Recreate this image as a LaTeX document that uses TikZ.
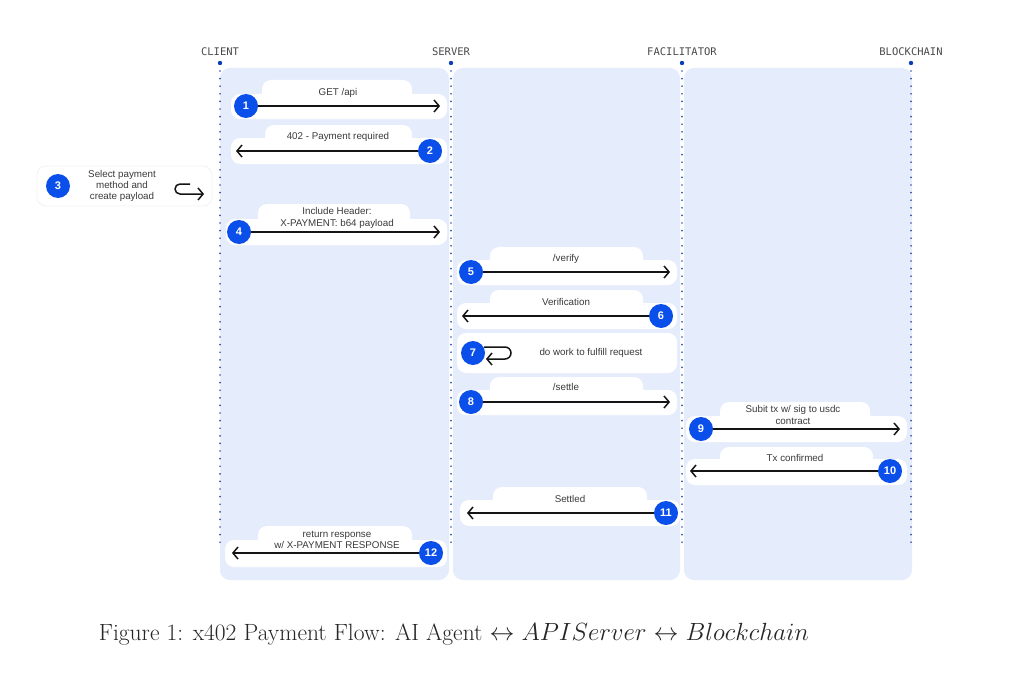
\documentclass[tikz,border=0pt]{standalone}
\usepackage{fontspec}
\usetikzlibrary{arrows.meta,positioning}
\newfontfamily\labelfont{Liberation Sans}
\newfontfamily\headfont{DejaVu Sans Mono}
\definecolor{lanebg}{HTML}{E5ECFC}
\definecolor{cbblue}{HTML}{0B4FEA}
\definecolor{lifedot}{HTML}{3552A8}
\definecolor{labeltext}{HTML}{3A3A3A}
\definecolor{headtext}{HTML}{4A4A4A}
\definecolor{arrowblack}{HTML}{141414}

\begin{document}
\begin{tikzpicture}[x=1pt, y=-1pt,
    every node/.style={font=\labelfont\fontsize{9.8}{10.5}\selectfont, text=labeltext},
    lane/.style={fill=lanebg, rounded corners=10pt},
    tab/.style={fill=white, rounded corners=9pt},
    lifeline/.style={draw=lifedot, line width=1.9pt, dash pattern=on 0pt off 7.6pt, line cap=round},
    head/.style={font=\headfont\fontsize{10.5}{12}\selectfont, text=headtext},
    num/.style={circle, fill=cbblue, text=white, minimum size=24pt, inner sep=0pt, font=\labelfont\bfseries\fontsize{11}{12}\selectfont},
    msg/.style={draw=arrowblack, line width=1.5pt, -{Straight Barb[length=5pt, width=12pt]}},
    lbl/.style={align=center},
    lbltwo/.style={align=center, font=\labelfont\fontsize{9.8}{11.5}\selectfont}]
\useasboundingbox (0,0) rectangle (1024,682);
\fill[white] (0,0) rectangle (1024,682);

% lanes
\fill[lane] (220,68) rectangle (449,580);
\fill[lane] (453,68) rectangle (680,580);
\fill[lane] (684,68) rectangle (912,580);

% lifelines
\node[head] (hclient) at (220,52) {CLIENT};
\node[head] (hserver) at (451,52) {SERVER};
\node[head] (hfacil) at (682,52) {FACILITATOR};
\node[head] (hchain) at (911,52) {BLOCKCHAIN};
\foreach \x/\n in {220/client, 451/server, 682/facil, 911/chain}{
  \fill[cbblue!80!black] (\x,63) circle (2.2pt);
  \draw[lifeline] (\x,71) -- (\x,549);
}

% 1
\fill[tab] (262,80) rectangle (412,102);
\fill[tab] (231,94) rectangle (447,119);
\node[num] (n1) at (246,106) {1};
\coordinate (e1) at (440,106);
\draw[msg] (n1) -- (e1);
\node[lbl] (l1) at (338,93) {GET /api};

% 2
\fill[tab] (265,125) rectangle (412,147);
\fill[tab] (231,138) rectangle (447,164);
\node[num] (n2) at (430,151) {2};
\coordinate (e2) at (236,151);
\draw[msg] (n2) -- (e2);
\node[lbl] (l2) at (338,137) {402 - Payment required};

% 3
\filldraw[tab, draw=black!5, line width=0.8pt] (37,166) rectangle (212,206);
\node[num] (n3) at (58,186) {3};
\node[lbl, font=\labelfont\fontsize{9.8}{11}\selectfont] (l3) at (122,186) {Select payment\\method and\\create payload};
\coordinate (h3a) at (190,184);
\coordinate (h3b) at (204,194);
\draw[msg] (h3a) -- (180,184) arc[start angle=270, end angle=90, radius=5] -- (h3b);

% 4
\fill[tab] (258,204) rectangle (410,227);
\fill[tab] (226,219) rectangle (447,245);
\node[num] (n4) at (239,232) {4};
\coordinate (e4) at (440,232);
\draw[msg] (n4) -- (e4);
\node[lbltwo] (l4) at (337,218) {Include Header:\\X-PAYMENT: b64 payload};

% 5
\fill[tab] (490,247) rectangle (643,269);
\fill[tab] (457,260) rectangle (677,285);
\node[num] (n5) at (471,272) {5};
\coordinate (e5) at (670,272);
\draw[msg] (n5) -- (e5);
\node[lbl] (l5) at (566,259) {/verify};

% 6
\fill[tab] (490,290) rectangle (643,312);
\fill[tab] (457,303) rectangle (677,329);
\node[num] (n6) at (661,316) {6};
\coordinate (e6) at (462,316);
\draw[msg] (n6) -- (e6);
\node[lbl] (l6) at (566,302) {Verification};

% 7
\fill[tab] (457,333) rectangle (677,373);
\node[num] (n7) at (473,353) {7};
\coordinate (h7a) at (484,347);
\coordinate (h7b) at (486,359);
\draw[msg] (h7a) -- (505,347) arc[start angle=-90, end angle=90, radius=6] -- (h7b);
\node[lbl] (l7) at (591,353) {do work to fulfill request};

% 8
\fill[tab] (490,377) rectangle (643,399);
\fill[tab] (457,390) rectangle (677,415);
\node[num] (n8) at (471,402) {8};
\coordinate (e8) at (670,402);
\draw[msg] (n8) -- (e8);
\node[lbl] (l8) at (566,387) {/settle};

% 9
\fill[tab] (720,402) rectangle (870,425);
\fill[tab] (686,416) rectangle (907,442);
\node[num] (n9) at (701,429) {9};
\coordinate (e9) at (900,429);
\draw[msg] (n9) -- (e9);
\node[lbltwo] (l9) at (793,415) {Subit tx w/ sig to usdc\\contract};

% 10
\fill[tab] (720,447) rectangle (873,469);
\fill[tab] (686,459) rectangle (907,485);
\node[num] (n10) at (890,471) {10};
\coordinate (e10) at (690,471);
\draw[msg] (n10) -- (e10);
\node[lbl] (l10) at (795,458) {Tx confirmed};

% 11
\fill[tab] (493,487) rectangle (647,509);
\fill[tab] (460,500) rectangle (680,526);
\node[num] (n11) at (666,513) {11};
\coordinate (e11) at (467,513);
\draw[msg] (n11) -- (e11);
\node[lbl] (l11) at (570,499) {Settled};

% 12
\fill[tab] (258,526) rectangle (412,549);
\fill[tab] (225,540) rectangle (447,567);
\node[num] (n12) at (431,553) {12};
\coordinate (e12) at (232,553);
\draw[msg] (n12) -- (e12);
\node[lbltwo] (l12) at (337,540) {return response\\w/ X-PAYMENT RESPONSE};

% caption
\node[font=\rmfamily\fontsize{23.5}{28}\selectfont, text=black!85] (cap) at (454,634) {Figure 1: x402 Payment Flow: AI Agent $\leftrightarrow$ $APIServer$ $\leftrightarrow$ $Blockchain$};
\end{tikzpicture}
\end{document}
